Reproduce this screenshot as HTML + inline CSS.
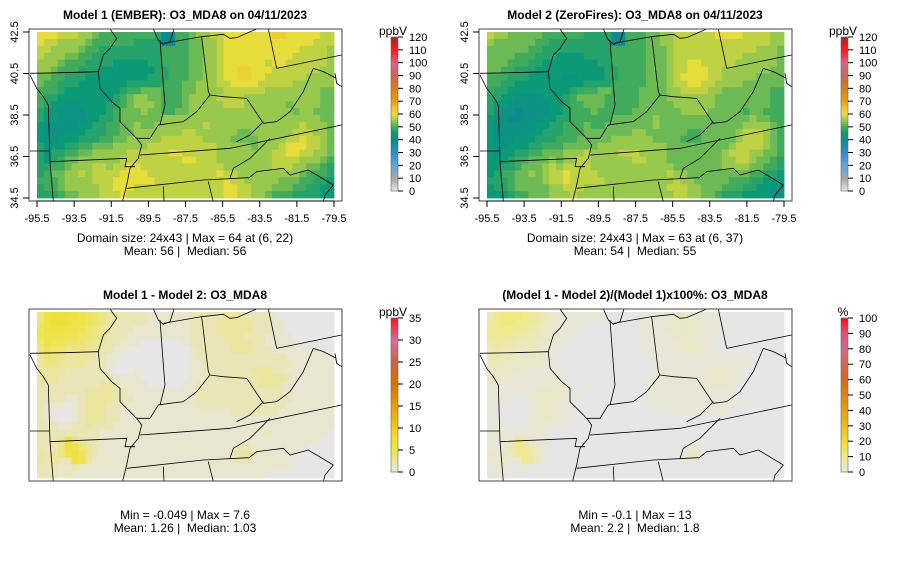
<!DOCTYPE html>
<html><head><meta charset="utf-8">
<style>
body{margin:0;background:#fff;width:900px;height:561px;overflow:hidden}
svg{display:block;font-family:"Liberation Sans",Arial,sans-serif}
text{white-space:pre}
</style></head>
<body>
<svg id="c" width="900" height="561" xmlns="http://www.w3.org/2000/svg"></svg>
<script>
// ---- data (24 rows x 43 cols, digit-encoded levels; spaces are ignored) ----
const gridM1 = [
"88877 76654 44444 44300 44566 77888 88889 98888 877",
"87766 66544 44443 33300 44556 67888 88888 88888 777",
"77666 65443 33333 33344 44556 67888 88888 88877 776",
"76665 54433 33333 33344 44556 67888 88888 88777 776",
"66654 44333 32222 23344 44556 67888 88878 87777 776",
"66544 43332 22222 22334 44556 67889 98887 77777 766",
"55443 33222 22222 23334 44556 67889 98877 77776 666",
"54433 32222 22233 33344 45566 67788 88777 77666 666",
"44432 22222 22344 55544 45566 66777 77766 66666 655",
"43322 22222 23456 65544 45666 67777 66666 66666 655",
"43221 12222 33456 66544 45666 66777 66666 65666 655",
"32211 11222 34555 65544 55666 66666 66666 66566 555",
"32211 11223 34555 55566 66666 66666 66666 66666 655",
"21111 12233 44556 55666 66667 66666 66666 66676 665",
"21112 22333 44556 66666 67766 66665 56666 66777 665",
"21122 23334 45566 66677 77776 66655 55666 67787 765",
"31223 34455 56666 67777 77777 76666 65666 78887 765",
"31334 45566 66677 77778 87777 76666 66667 78877 665",
"32345 56666 66777 77777 78877 76666 66667 77766 654",
"33445 66677 67788 77777 77777 77666 66667 77665 543",
"34556 67677 77888 87777 77777 78776 66666 66654 443",
"44456 66677 78888 88777 77777 77877 66666 55544 332",
"34456 66667 78887 77777 77777 77887 76665 55443 322",
"33345 56667 77877 77777 77777 77887 76654 44333 322"];
const gridM2 = [
"76655 55544 44443 33300 44455 66777 77788 88777 766",
"65555 55443 33333 33300 44455 66777 77777 77777 766",
"55555 54433 33333 33344 44455 56777 77777 77776 665",
"55554 44333 22223 33344 44455 56777 77777 77666 665",
"55544 43322 22222 23344 44455 56778 87777 76666 665",
"55443 33222 22222 22334 44455 56778 88776 66666 655",
"44433 32222 21122 22334 44455 56788 88776 66665 555",
"44332 22222 22223 33344 44455 56778 87766 66555 555",
"43322 22222 22344 45544 44555 56677 77665 55555 544",
"33221 11122 23455 55444 44555 56666 66655 55555 544",
"32211 11112 23445 55444 44555 55666 66655 55555 544",
"32110 11112 23444 54444 45555 55566 66555 55455 444",
"21100 11122 33444 44455 55556 55555 55555 55565 544",
"21111 11223 34445 44555 55556 55555 55555 55666 654",
"21111 12233 34445 55555 56655 55554 45555 56777 654",
"21112 22333 44455 55566 66665 55544 45555 56777 654",
"21122 23344 45555 56666 66666 65555 55555 67777 654",
"21223 34455 56667 66667 77666 65555 55556 77766 554",
"22234 45556 56677 66666 67766 65555 55556 67765 543",
"22334 55567 67777 66666 66666 66555 55556 66655 443",
"23445 56567 78777 76666 66666 67665 55555 55544 332",
"33345 55567 78777 77666 66666 66766 55555 44433 222",
"23345 55556 67776 66666 66666 67776 65554 44332 211",
"22234 45556 66766 66666 66666 66776 65543 33222 211"];
const gridD = [
"48999 87654 33222 21111 11222 22333 22221 00000 000",
"58998 77654 32222 21111 11222 23333 32221 10000 000",
"68887 76543 32221 11111 11222 23333 32221 10000 000",
"67776 65543 22211 11111 11222 22333 22211 11000 000",
"57665 55433 22111 00000 01222 22233 32211 11100 000",
"46554 44332 21100 00000 00122 22233 32221 11111 100",
"35443 33322 11000 00000 00122 22222 22222 21111 110",
"34433 33222 10000 00000 00112 22222 22222 22111 111",
"33332 22222 10001 00000 00112 22222 23332 21111 111",
"33322 22222 21111 00000 00112 22222 22333 32111 111",
"22222 22223 32111 10000 01122 22222 22333 21111 111",
"22222 22333 32211 11111 11122 22222 22222 21111 111",
"22221 12333 32221 11111 11122 22222 22222 22111 111",
"21110 12333 22211 11111 11122 22222 22222 21111 111",
"21000 12333 22111 11111 11111 11122 22222 11111 111",
"21100 12333 22111 11111 11111 11111 11111 11111 111",
"22211 22322 21111 11111 11111 11111 11111 11111 111",
"22222 22221 11111 11111 11111 11111 11121 11111 110",
"22238 53221 11111 11111 11111 11111 11111 11111 100",
"22248 75321 11111 11111 11111 11112 21111 11110 000",
"32347 86321 11111 11111 11111 11123 32111 11100 000",
"32322 76311 11111 11111 11111 11122 21111 11000 000",
"22211 21111 11111 11111 11111 11111 11111 11000 000",
"22212 11111 11111 11111 11111 11111 11100 00000 000"];
const gridP = [
"36777 65432 21111 11000 00111 11222 11110 00000 000",
"46776 65432 11111 10000 00111 12222 21110 00000 000",
"56665 54322 11110 00000 00111 12222 21110 00000 000",
"55554 43322 11100 00000 00111 11222 11100 00000 000",
"45443 33221 11000 00000 00111 11122 21100 00000 000",
"34332 22211 10000 00000 00011 11122 21110 00000 000",
"33332 22211 00000 00000 00011 11111 11111 11100 000",
"33322 22211 00000 00000 00001 11111 11111 11110 000",
"22222 11111 00000 00000 00001 11111 11222 11000 000",
"22211 11111 10000 00000 00001 11111 11222 11000 000",
"11111 11112 21000 00000 00011 11111 11222 10000 000",
"11111 11222 21100 00000 00011 11111 11111 10000 000",
"11110 01222 21110 00000 00011 11111 11111 11000 000",
"11000 01222 11100 00000 00011 11111 11111 10000 000",
"10000 01222 11000 00000 00000 00111 11111 00000 000",
"11000 01222 11000 00000 00000 00000 00000 00000 000",
"11100 11211 10000 00000 00000 00000 00000 00000 000",
"11111 11110 00000 00000 00000 00000 00010 00000 000",
"11126 42110 00000 00000 00000 00000 00000 00000 000",
"11136 53210 00000 00000 00000 00001 10000 00000 000",
"21225 64210 00000 00000 00000 00012 21000 00000 000",
"21211 54200 00000 00000 00000 00011 10000 00000 000",
"11100 10000 00000 00000 00000 00000 00000 00000 000",
"11101 00000 00000 00000 00000 00000 00000 00000 000"];
const stepM = 2.5, baseM = 40;   // model value = 40 + digit*2.5
const stepD = 0.8;               // diff value = digit*0.8
const stepP = 1.5;               // percent = digit*1.5
const xTickLabels = ["-95.5","-93.5","-91.5","-89.5","-87.5","-85.5","-83.5","-81.5","-79.5"];
const xTickValues = [-95.5,-93.5,-91.5,-89.5,-87.5,-85.5,-83.5,-81.5,-79.5];
const yTickValues = [42.5,40.5,38.5,36.5,34.5];
const cbTicksModel = [0,10,20,30,40,50,60,70,80,90,100,110,120];
const cbTicksDiff = [0,5,10,15,20,25,30,35];
const cbTicksPct = [0,10,20,30,40,50,60,70,80,90,100];

const NS="http://www.w3.org/2000/svg";
const svg=document.getElementById('c');
function mk(tag,attrs,parent){const e=document.createElementNS(NS,tag);for(const k in attrs)e.setAttribute(k,attrs[k]);(parent||svg).appendChild(e);return e;}
function hex(h){return [parseInt(h.slice(1,3),16),parseInt(h.slice(3,5),16),parseInt(h.slice(5,7),16)];}
function scale(stops){return v=>{if(v<=stops[0][0])return stops[0][1];for(let i=1;i<stops.length;i++){if(v<=stops[i][0]){const t=(v-stops[i-1][0])/(stops[i][0]-stops[i-1][0]);const a=hex(stops[i-1][1]),b=hex(stops[i][1]);return 'rgb('+a.map((x,j)=>Math.round(x+(b[j]-x)*t)).join(',')+')';}}return stops[stops.length-1][1];};}
const colModel=scale([[0,"#e8e8e8"],[10,"#a6a6a6"],[20,"#5fa8d8"],[30,"#2f8ad0"],[40,"#0f8a90"],[45,"#0a9a78"],[50,"#40ab5c"],[55,"#98c84c"],[60,"#e6dc3a"],[65,"#eec42a"],[70,"#e8a010"],[80,"#e07c10"],[90,"#c86a50"],[100,"#d8608c"],[110,"#ff1a1a"],[120,"#b02020"]]);
const colDiff=scale([[0,"#e6e6e6"],[5,"#f0e450"],[8,"#f0dc30"],[14,"#e8a808"],[20,"#d87000"],[25,"#c86440"],[30,"#d070a0"],[35,"#ff1010"]]);
const colPct=scale([[0,"#e6e6e6"],[10,"#f0ea80"],[20,"#f0dc30"],[40,"#e8a008"],[60,"#d86810"],[80,"#d06888"],[90,"#e05080"],[100,"#ff0a0a"]]);

const X0=37,W=297,Y0=32,H=166;
const lonToX=(lon,dx)=>dx+X0+(lon+95.5)/16*W;
const latToY=(lat,dy)=>dy+Y0+(42.5-lat)/8*H;

const borders=[
"M240,12 L260,40 L240,70 L220,90 L205,140 L210,190 L245,230 L270,250 L270,290 L300,320 L320,340 L335,360 L325,400 L300,430 L290,480 L275,540",
"M0,145 L100,143 L205,140",
"M320,340 L360,340 L385,300 L420,295 L460,290 L500,260 L540,210 L580,215 L650,220 L680,265 L700,295 L740,290 L780,260 L820,200 L850,130 L880,140 L920,160",
"M390,45 L400,180 L405,240 L390,300",
"M370,12 L385,45 L400,58 L420,50 L432,12",
"M400,55 L515,35 L580,28 L600,40 L620,38 L680,12",
"M515,35 L535,200 L540,210",
"M715,12 L740,130",
"M740,130 L935,90",
"M700,290 L660,330 L620,350",
"M0,378 L58,378",
"M60,410 L290,400 L285,425 L315,425",
"M330,390 L400,385 L600,370 L935,300",
"M0,150 L20,190 L40,215 L55,240 L60,410 L70,530",
"M720,340 L660,400 L610,430 L600,460",
"M290,490 L520,465 L655,458",
"M655,460 L680,440 L760,430 L780,450 L835,435 L910,480",
"M400,485 L402,530",
"M535,470 L550,530",
"M910,480 L885,510 L880,530",
"M240,12 L300,8 M580,12 L680,12",
"M915,145 L920,175 L935,185"
];

function panel(o){
  const g=mk('g',{},svg);
  
  
  const cid='clip'+o.dx+'_'+o.dy;
  const cp=mk('clipPath',{id:cid},g);mk('rect',{x:29+o.dx,y:29+o.dy,width:313,height:172},cp);
  const cells=mk('g',{'clip-path':'url(#'+cid+')'},g);
  
  
  const grid=o.grid.map(s=>s.replace(/ /g,''));
  const rows=grid.length, cols=43, cw=W/cols, ch=H/rows;
  for(let r=0;r<rows;r++)for(let c=0;c<cols;c++){
    const d=+grid[r][c];
    const v=o.val(d);
    const lon=-95.5+c*16/cols, lat=42.5-r*8/rows;
    const x=lonToX(lon,o.dx), y=latToY(lat,o.dy);
    const rc=mk('rect',{x:x.toFixed(2),y:y.toFixed(2),width:(cw+0.4).toFixed(2),height:(ch+0.4).toFixed(2),fill:o.col(v)},cells);
    
    
  }
  const bg=mk('g',{'clip-path':'url(#'+cid+')'},g);
  
  
  const tg=mk('g',{transform:'translate('+(30+o.dx)+','+(25+o.dy)+') scale(0.33333)'},bg);
  borders.forEach(p=>mk('path',{d:p,fill:'none',stroke:'#000','stroke-width':0.8,'vector-effect':'non-scaling-stroke'},tg));
  const fr=mk('rect',{x:29+o.dx,y:29+o.dy,width:313,height:172,fill:'none',stroke:'#444','stroke-width':1},g);
  
  
  const t=mk('text',{x:185+o.dx,y:19+o.dy,'text-anchor':'middle','font-size':12,'font-weight':'bold'},g);
  t.textContent=o.title;
  
  
  if(o.axes){
    const ax=mk('g',{},g);
    
    
    xTickValues.forEach((v,i)=>{const x=lonToX(v,o.dx);
      mk('line',{x1:x,x2:x,y1:201,y2:207,stroke:'#000'},ax);
      const tl=mk('text',{x:x,y:222,'text-anchor':'middle','font-size':11},ax);tl.textContent=xTickLabels[i];});
    mk('line',{x1:lonToX(-95.5,o.dx),x2:lonToX(-79.5,o.dx),y1:201,y2:201,stroke:'#000'},ax);
    const ay=mk('g',{},g);
    
    
    yTickValues.forEach(v=>{const y=latToY(v,0);
      mk('line',{x1:23+o.dx,x2:29+o.dx,y1:y,y2:y,stroke:'#000'},ay);
      const tl=mk('text',{x:0,y:0,'text-anchor':'middle','font-size':11,transform:'translate('+(18+o.dx)+','+y+') rotate(-90)'},ay);tl.textContent=v.toFixed(1);});
  }
  o.notes.forEach((s,i)=>{const n=mk('text',{x:185+o.dx,y:o.noteY+i*13,'text-anchor':'middle','font-size':12},g);n.textContent=s;
    
    });
  const cb=mk('g',{},g);
  
  
  const bx=391+o.dx, top=o.cbTop, bot=o.cbBot, n=80;
  for(let i=0;i<n;i++){const v=o.cbMax*(i+0.5)/n;const y=bot-(i+1)*(bot-top)/n;
    mk('rect',{x:bx,y:y.toFixed(2),width:7,height:((bot-top)/n+0.3).toFixed(2),fill:o.col(v)},cb);}
  mk('rect',{x:bx,y:top,width:7,height:bot-top,fill:'none',stroke:'#666','stroke-width':0.6},cb);
  o.cbTicks.forEach(v=>{const y=bot-(v/o.cbMax)*(bot-top);
    mk('line',{x1:bx+7,x2:bx+12,y1:y,y2:y,stroke:'#000'},cb);
    const tl=mk('text',{x:bx+18,y:y+4,'font-size':11},cb);tl.textContent=v;});
  const un=mk('text',{x:bx+2,y:top-2,'text-anchor':'middle','font-size':12},cb);un.textContent=o.unit;
}
panel({name:'panel-model1',dx:0,dy:0,grid:gridM1,val:d=>baseM+d*stepM,col:colModel,axes:true,title:'Model 1 (EMBER): O3_MDA8 on 04/11/2023',
  notes:['Domain size: 24x43 | Max = 64 at (6, 22)','Mean: 56 |  Median: 56'],noteY:242,cbTop:37,cbBot:191,cbMax:120,cbTicks:cbTicksModel,unit:'ppbV'});
panel({name:'panel-model2',dx:450,dy:0,grid:gridM2,val:d=>baseM+d*stepM,col:colModel,axes:true,title:'Model 2 (ZeroFires): O3_MDA8 on 04/11/2023',
  notes:['Domain size: 24x43 | Max = 63 at (6, 37)','Mean: 54 |  Median: 55'],noteY:242,cbTop:37,cbBot:191,cbMax:120,cbTicks:cbTicksModel,unit:'ppbV'});
panel({name:'panel-difference',dx:0,dy:280,grid:gridD,val:d=>d*stepD,col:colDiff,axes:false,title:'Model 1 - Model 2: O3_MDA8',
  notes:['Min = -0.049 | Max = 7.6','Mean: 1.26 |  Median: 1.03'],noteY:519,cbTop:318,cbBot:472,cbMax:35,cbTicks:cbTicksDiff,unit:'ppbV'});
panel({name:'panel-percent-difference',dx:450,dy:280,grid:gridP,val:d=>d*stepP,col:colPct,axes:false,title:'(Model 1 - Model 2)/(Model 1)x100%: O3_MDA8',
  notes:['Min = -0.1 | Max = 13','Mean: 2.2 |  Median: 1.8'],noteY:519,cbTop:318,cbBot:472,cbMax:100,cbTicks:cbTicksPct,unit:'%'});
</script>
</body></html>
